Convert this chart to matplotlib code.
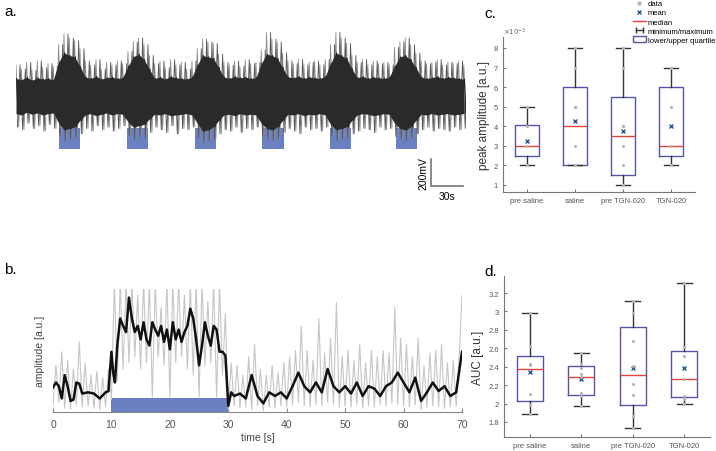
import numpy as np
import matplotlib.pyplot as plt
from matplotlib.lines import Line2D
from matplotlib.patches import Patch
from matplotlib.legend_handler import HandlerLine2D

plt.rcParams['font.family'] = ['Liberation Sans', 'DejaVu Sans']

# ---------------- data ----------------
# panel a: envelope of the raw trace (mV), sampled every 5 s
trace_t = np.arange(0, 425, 5)
outer_top = [230, 200, 250, 190, 260, 210, 240, 220,
             380, 460, 430, 410, 350,
             260, 230, 270, 200, 250, 230, 260, 240,
             330, 400, 430, 380, 300,
             240, 260, 210, 270, 230, 250, 200, 260,
             350, 420, 400, 390, 310,
             250, 230, 260, 220, 270, 240, 250,
             340, 470, 420, 400, 320,
             260, 240, 270, 230, 250, 260, 230, 270,
             380, 470, 430, 390, 300,
             250, 270, 230, 260, 240, 250, 230,
             360, 400, 430, 380, 320,
             260, 240, 250, 270, 230, 250, 240, 260, 230]
outer_bot = [-230, -250, -200, -240, -220, -260, -210, -240,
             -300, -330, -320, -310, -280,
             -240, -260, -220, -250, -230, -260, -240, -220,
             -290, -320, -300, -310, -270,
             -230, -250, -270, -220, -280, -240, -250, -230,
             -310, -340, -330, -320, -280,
             -250, -260, -230, -270, -240, -250, -230,
             -300, -320, -330, -310, -270,
             -240, -260, -280, -230, -250, -240, -260, -230,
             -300, -330, -320, -310, -280,
             -260, -240, -250, -270, -230, -250, -240,
             -300, -320, -330, -310, -280,
             -250, -230, -260, -240, -250, -260, -230, -250, -240]
inner_top = [130, 120, 140, 115, 135, 125, 130, 120,
             250, 320, 300, 290, 220,
             140, 130, 145, 125, 135, 140, 130, 135,
             220, 290, 310, 270, 200,
             130, 140, 125, 145, 135, 130, 125, 140,
             230, 300, 290, 280, 210,
             140, 130, 145, 135, 140, 130, 135,
             240, 310, 300, 280, 210,
             140, 135, 145, 130, 140, 135, 130, 145,
             240, 320, 300, 280, 200,
             135, 145, 130, 140, 135, 130, 140,
             220, 290, 300, 270, 210,
             140, 130, 135, 145, 130, 140, 135, 130, 125]
inner_bot = [-130, -140, -120, -135, -125, -140, -130, -125,
             -200, -250, -240, -230, -180,
             -140, -130, -145, -135, -125, -140, -130, -135,
             -190, -230, -220, -210, -170,
             -135, -140, -130, -145, -140, -135, -130, -140,
             -200, -260, -250, -230, -180,
             -140, -135, -145, -130, -140, -135, -140,
             -200, -240, -250, -230, -180,
             -135, -140, -130, -145, -135, -140, -130, -140,
             -210, -250, -240, -230, -180,
             -140, -130, -135, -145, -140, -130, -135,
             -200, -240, -250, -230, -180,
             -135, -140, -130, -140, -135, -130, -140, -135, -130]
stim_starts = [40, 104, 168, 231, 294, 356]
stim_len = 20

# panel b: raw amplitude (gray) every 0.5 s and smoothed amplitude (black)
raw_t = np.arange(0, 70.5, 0.5)
raw_amp = [0.05, 0.38, 0.08, 0.49, 0.03, 0.42, 0.02, 0.35, 0.06, 0.57, 0.04, 0.40, 0.05, 0.30, 0.03, 0.33, 0.02, 0.28, 0.04, 0.35,
           0.10, 1.05, 0.25, 1.05, 0.35, 1.05, 0.40, 1.05, 0.45, 0.95, 0.35, 1.05, 0.40, 1.05, 0.12, 1.05, 0.45, 0.85, 0.38, 1.05,
           0.12, 1.05, 0.40, 1.05, 0.45, 0.95, 0.35, 1.05, 0.30, 1.05, 0.12, 1.05, 0.38, 0.90, 0.40, 1.05, 0.12, 1.05, 0.30, 0.80,
           0.02, 0.40, 0.05, 0.38, 0.03, 0.30, 0.04, 0.45, 0.02, 0.55, 0.05, 0.35, 0.01, 0.30, 0.04, 0.38, 0.03, 0.32, 0.05, 0.40,
           0.04, 0.45, 0.06, 0.50, 0.08, 0.70, 0.05, 0.50, 0.04, 0.42, 0.06, 0.76, 0.05, 0.48, 0.08, 0.60, 0.06, 0.89, 0.04, 0.45,
           0.05, 0.50, 0.04, 0.42, 0.06, 0.55, 0.03, 0.40, 0.05, 0.50, 0.04, 0.45, 0.06, 0.50, 0.05, 0.48, 0.07, 0.85, 0.06, 0.60,
           0.05, 0.55, 0.04, 0.45, 0.06, 0.60, 0.02, 0.38, 0.04, 0.48, 0.05, 0.50, 0.04, 0.55, 0.03, 0.40, 0.04, 0.42, 0.05, 0.45,
           0.95]
smooth_t = [0, 0.5, 1, 1.5, 2, 2.5, 3, 3.5, 4, 4.5, 5, 6, 7, 8, 9, 9.5,
            10, 10.3, 10.6, 11, 11.5, 12, 12.5, 13, 13.5, 14, 14.5, 15, 15.5, 16, 16.5, 17, 17.5, 18, 18.5, 19, 19.5,
            20, 20.5, 21, 21.5, 22, 22.5, 23, 23.5, 24, 24.5, 25, 25.5, 26, 26.5, 27, 27.5, 28, 28.5, 29, 29.5,
            30, 30.5, 31, 32, 33, 34, 35, 36, 37, 38, 39, 40, 41, 42, 43, 44, 45, 46, 47, 48, 49,
            50, 51, 52, 53, 54, 55, 56, 57, 58, 59, 60, 61, 62, 63, 64, 65, 66, 67, 68, 69, 70]
smooth_amp = [0.20, 0.24, 0.21, 0.11, 0.30, 0.21, 0.09, 0.10, 0.24, 0.23, 0.15, 0.16, 0.15, 0.11, 0.16, 0.17,
              0.49, 0.32, 0.24, 0.54, 0.76, 0.70, 0.65, 0.93, 0.76, 0.65, 0.70, 0.59, 0.73, 0.59, 0.54, 0.73, 0.67, 0.62, 0.70, 0.57, 0.67,
              0.51, 0.73, 0.59, 0.67, 0.57, 0.65, 0.70, 0.84, 0.76, 0.59, 0.38, 0.54, 0.73, 0.62, 0.54, 0.70, 0.67, 0.49, 0.49, 0.46,
              0.05, 0.16, 0.13, 0.15, 0.11, 0.30, 0.13, 0.07, 0.16, 0.13, 0.16, 0.11, 0.21, 0.32, 0.21, 0.16, 0.24, 0.16, 0.35, 0.21, 0.16,
              0.21, 0.15, 0.24, 0.13, 0.21, 0.19, 0.13, 0.21, 0.24, 0.32, 0.24, 0.16, 0.28, 0.09, 0.16, 0.24, 0.17, 0.21, 0.13, 0.16, 0.49]
stim_b = (10, 30)

# panels c, d: box plot statistics
groups = ['pre saline', 'saline', 'pre TGN-020', 'TGN-020']

peak_min = [2.0, 2.0, 1.0, 2.0]
peak_q1 = [2.5, 2.0, 1.5, 2.5]
peak_med = [3.0, 4.0, 3.5, 3.0]
peak_q3 = [4.05, 6.0, 5.5, 6.0]
peak_max = [5.0, 8.0, 8.0, 7.0]
peak_mean = [3.25, 4.25, 3.75, 4.0]
peak_data = [[2, 3, 3, 3, 4, 5],
             [2, 2, 3, 5, 5, 7, 8],
             [1, 2, 3, 4, 4, 7, 8],
             [2, 3, 3, 5, 7]]

auc_min = [1.89, 1.97, 1.73, 1.99]
auc_q1 = [2.03, 2.09, 1.98, 2.07]
auc_med = [2.37, 2.29, 2.31, 2.27]
auc_q3 = [2.52, 2.41, 2.83, 2.57]
auc_max = [2.98, 2.55, 3.11, 3.31]
auc_mean = [2.34, 2.27, 2.39, 2.39]
auc_data = [[1.89, 1.98, 2.10, 2.42, 2.43, 2.62, 2.98],
            [1.97, 2.08, 2.11, 2.29, 2.32, 2.39, 2.43, 2.55],
            [1.73, 1.87, 2.09, 2.21, 2.41, 2.68, 2.98, 3.11],
            [1.99, 2.05, 2.08, 2.27, 2.52, 2.61, 3.31]]

# ---------------- layout helpers ----------------
W, H = 716, 452


def rect(l, t, r, b):
    return [l / W, 1 - b / H, (r - l) / W, (b - t) / H]


def zigzag(t, hi, lo, half):
    # alternate between the upper and lower reading to draw a dense trace
    x = np.column_stack([t, np.asarray(t) + half]).ravel()
    y = np.column_stack([hi, lo]).ravel()
    return x, y


stim_col = '#6b80c2'
box_col = '#5656a6'
med_col = '#e2443a'
tick_col = '#555555'

fig = plt.figure(figsize=(W / 100, H / 100), dpi=100)

# ---------------- panel a ----------------
ax_a = fig.add_axes(rect(16, 20, 466, 200))
ax_a.set_xlim(0, 422)
ax_a.set_ylim(-762, 570)
ax_a.axis('off')
for s in stim_starts:
    ax_a.bar(s, -392 + 237, bottom=-237, width=stim_len, align='edge', color=stim_col, zorder=1)
x1, y1 = zigzag(trace_t, outer_top, outer_bot, 2.5)
ax_a.plot(x1, y1, color='#8c8c8c', lw=0.6, zorder=2)
x2, y2 = zigzag(trace_t + 1.25, outer_bot, outer_top, 2.5)
ax_a.plot(x2, y2, color='#555555', lw=0.6, zorder=2)
x3, y3 = zigzag(trace_t + 0.6, inner_top, inner_bot, 1.25)
ax_a.plot(x3, y3, color='#222222', lw=0.8, zorder=3)
ax_a.fill_between(trace_t, inner_bot, inner_top, color='#2a2a2a', lw=0, zorder=3)
# scale bar
ax_a.plot([389, 389, 419], [-466, -666, -666], color='#777777', lw=1.2, solid_joinstyle='miter')
ax_a.text(382, -566, '200mV', rotation=90, ha='center', va='center', fontsize=7.5)
ax_a.text(404, -700, '30s', ha='center', va='top', fontsize=7.5)

# ---------------- panel b ----------------
ax_b = fig.add_axes(rect(53, 290, 462, 413))
ax_b.set_xlim(0, 70)
ax_b.set_ylim(0, 1.0)
ax_b.bar(stim_b[0], 0.11, width=stim_b[1] - stim_b[0], align='edge', color=stim_col, zorder=1)
ax_b.plot(raw_t, raw_amp, color='#c6c6c6', lw=0.8, zorder=2)
ax_b.plot(smooth_t, smooth_amp, color='#111111', lw=1.8, zorder=3)
for sp in ['left', 'right', 'top']:
    ax_b.spines[sp].set_visible(False)
ax_b.spines['bottom'].set_color('#888888')
ax_b.set_yticks([])
ax_b.set_xticks(range(0, 71, 10))
ax_b.tick_params(axis='x', direction='in', length=3, colors='#888888', labelcolor=tick_col, labelsize=7.5, pad=5)
ax_b.set_xlabel('time [s]', fontsize=7.5, color='#444444', labelpad=2)
ax_b.set_ylabel('amplitude [a.u.]', fontsize=7.5, color='#444444', labelpad=6)


def box_panel(ax, lo, q1, med, q3, hi, mean, data):
    stats = []
    for i in range(len(groups)):
        stats.append(dict(med=med[i], q1=q1[i], q3=q3[i], whislo=lo[i], whishi=hi[i],
                          mean=mean[i], fliers=[], label=groups[i]))
    pos = np.arange(1, len(groups) + 1)
    ax.bxp(stats, positions=pos, widths=0.5, showmeans=True, capwidths=0.3,
           boxprops=dict(color=box_col, lw=1.0),
           whiskerprops=dict(color='#333333', lw=1.0),
           capprops=dict(color='#333333', lw=1.0),
           medianprops=dict(color=med_col, lw=1.0),
           meanprops=dict(marker='x', markeredgecolor='#2e5b9a', markersize=3.5, markeredgewidth=1.0))
    for i, d in enumerate(data):
        ax.scatter(np.full(len(d), pos[i]), d, s=5, color='#b5b5b5', zorder=4, lw=0)
    ax.set_xlim(0.5, 4.5)
    for sp in ['right', 'top']:
        ax.spines[sp].set_visible(False)
    for sp in ['left', 'bottom']:
        ax.spines[sp].set_color('#777777')
    ax.tick_params(direction='in', length=2, colors='#777777', labelcolor=tick_col, labelsize=5.5)


# ---------------- panel c ----------------
ax_c = fig.add_axes(rect(503, 38, 695, 193))
box_panel(ax_c, peak_min, peak_q1, peak_med, peak_q3, peak_max, peak_mean, peak_data)
ax_c.set_ylim(0.64, 8.56)
ax_c.set_yticks(range(1, 9))
ax_c.set_ylabel('peak amplitude [a.u.]', fontsize=8.5, color='#333333', labelpad=3)
ax_c.text(0.0, 1.0, r'$\times10^{-3}$', transform=ax_c.transAxes, fontsize=5, color='#666666',
          ha='left', va='bottom')

# ---------------- panel d ----------------
ax_d = fig.add_axes(rect(504, 277, 710, 438))
box_panel(ax_d, auc_min, auc_q1, auc_med, auc_q3, auc_max, auc_mean, auc_data)
ax_d.set_ylim(1.637, 3.385)
ax_d.set_yticks([1.8, 2.0, 2.2, 2.4, 2.6, 2.8, 3.0, 3.2])
ax_d.set_yticklabels(['1.8', '2', '2.2', '2.4', '2.6', '2.8', '3', '3.2'])
ax_d.set_ylabel('AUC [a.u.]', fontsize=8.5, color='#333333', labelpad=3)

# legend for box plots
h_data = Line2D([], [], ls='none', marker='o', markersize=2, color='#b5b5b5')
h_mean = Line2D([], [], ls='none', marker='x', markersize=3, markeredgecolor='#2e5b9a')
h_med = Line2D([], [], color=med_col, lw=1)
h_minmax = Line2D([], [], color='#333333', lw=1, marker='|', markersize=5)
h_quart = Patch(facecolor='white', edgecolor=box_col, lw=1)
fig.legend([h_data, h_mean, h_med, h_minmax, h_quart],
           ['data', 'mean', 'median', 'minimum/maximum', 'lower/upper quartile'],
           loc='upper right', bbox_to_anchor=(1.0, 1.0), frameon=False, fontsize=5.5,
           numpoints=1, handlelength=1.6, handleheight=0.8, handletextpad=0.3, labelspacing=0.2,
           borderaxespad=0.05, borderpad=0.05,
           handler_map={h_minmax: HandlerLine2D(numpoints=2)})

# panel letters
for lab, x, y in [('a.', 4, 12), ('b.', 4, 270), ('c.', 484, 14), ('d.', 484, 272)]:
    fig.text(x / W, 1 - y / H, lab, fontsize=11, ha='left', va='center')

fig.savefig('out.png', dpi=100)
